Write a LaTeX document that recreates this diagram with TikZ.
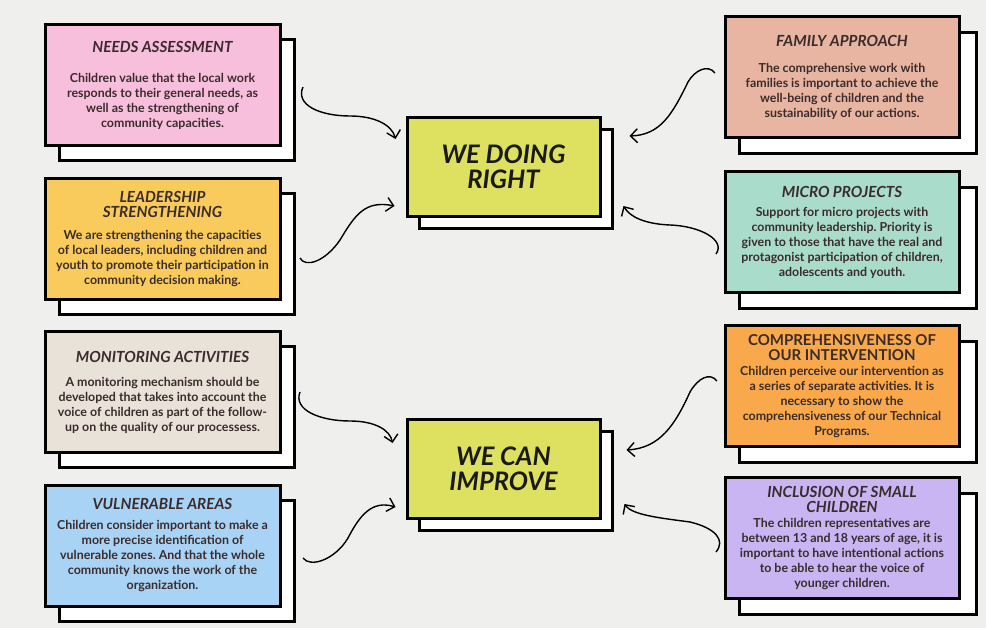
\documentclass[tikz,border=0pt]{standalone}
\usepackage{fontspec}
\setmainfont{Lato}
\usetikzlibrary{arrows.meta}
\newcommand\mybody{\fontsize{12.4}{15}\selectfont\bfseries}
\newcommand\mytitle{\fontsize{15.3}{15}\selectfont\bfseries\itshape}
\newcommand\mytitleup{\fontsize{15}{15}\selectfont\bfseries}
\newcommand\mycenter{\fontsize{25.5}{25}\selectfont\bfseries\itshape}
\definecolor{bgc}{HTML}{EFEFEE}
\definecolor{txc}{HTML}{3A2C2C}
\definecolor{cpink}{HTML}{F8BFDD}
\definecolor{cyell}{HTML}{F9CB5C}
\definecolor{cbeige}{HTML}{E9E2D8}
\definecolor{cblue}{HTML}{A9D3F5}
\definecolor{csalm}{HTML}{E8B5A2}
\definecolor{cmint}{HTML}{A9DCCA}
\definecolor{corng}{HTML}{F9A94B}
\definecolor{clav}{HTML}{C9B5F2}
\definecolor{ccent}{HTML}{DDE15F}
\tikzset{
  backbox/.style={draw=black, line width=3pt, fill=white, inner sep=0pt,
    minimum width=235pt, minimum height=121pt},
  card/.style={draw=black, line width=3pt, inner sep=1pt, align=center,
    minimum width=235pt, minimum height=121pt, text=txc, font=\mybody},
  cback/.style={backbox, minimum width=193pt, minimum height=99pt},
  ccard/.style={card, fill=ccent, minimum width=193pt, minimum height=99pt,
    text=black!90, font=\mycenter},
  arr/.style={line width=1.4pt, -{Straight Barb[length=7pt,width=14pt,line width=1.4pt]}}
}
\begin{document}
\frenchspacing
\begin{tikzpicture}[x=1pt,y=-1pt]
\useasboundingbox (0,0) rectangle (986,628);
\fill[bgc] (0,0) rectangle (986,628);

% left column
\node[backbox] (n1b) at (176.5,100.5) {};
\node[card, fill=cpink] (n1) at (162.5,85.5) {{\mytitle NEEDS ASSESSMENT}\\[15pt]
Children value that the local work\\responds to their general needs, as\\well as the strengthening of\\community capacities.};

\node[backbox] (n2b) at (176.5,254) {};
\node[card, fill=cyell] (n2) at (162.5,239) {{\mytitle LEADERSHIP}\\{\mytitle STRENGTHENING}\\[7pt]
We are strengthening the capacities\\of local leaders, including children and\\youth to promote their participation in\\community decision making.};

\node[backbox] (n3b) at (176.5,407) {};
\node[card, fill=cbeige] (n3) at (162.5,392) {{\mytitle MONITORING ACTIVITIES}\\[9pt]
A monitoring mechanism should be\\developed that takes into account the\\voice of children as part of the follow-\\up on the quality of our processess.};

\node[backbox] (n4b) at (176.5,560.5) {};
\node[card, fill=cblue] (n4) at (162.5,545.5) {{\mytitle VULNERABLE AREAS}\\[5pt]
Children consider important to make a\\more precise identification of\\vulnerable zones. And that the whole\\community knows the work of the\\organization.};

% right column
\node[backbox, minimum width=237pt] (n5b) at (857.5,93.5) {};
\node[card, minimum width=234pt, fill=csalm] (n5) at (842,77.5) {{\mytitle FAMILY APPROACH}\\[11pt]
The comprehensive work with\\families is important to achieve the\\well-being of children and the\\sustainability of our actions.};

\node[backbox, minimum width=237pt] (n6b) at (857.5,248.5) {};
\node[card, minimum width=234pt, fill=cmint] (n6) at (842,232.5) {{\mytitle MICRO PROJECTS}\\[4pt]
Support for micro projects with\\community leadership. Priority is\\given to those that have the real and\\protagonist participation of children,\\adolescents and youth.};

\node[backbox, minimum width=237pt] (n7b) at (857.5,402) {};
\node[card, minimum width=234pt, fill=corng] (n7) at (842,386) {{\mytitleup COMPREHENSIVENESS OF}\\{\mytitleup OUR INTERVENTION}\\[0pt]
Children perceive our intervention as\\a series of separate activities. It is\\necessary to show the\\comprehensiveness of our Technical\\Programs.};

\node[backbox, minimum width=237pt] (n8b) at (857.5,554) {};
\node[card, minimum width=234pt, fill=clav] (n8) at (842,538) {{\mytitle INCLUSION OF SMALL}\\{\mytitle CHILDREN}\\[0pt]
The children representatives are\\between 13 and 18 years of age, it is\\important to have intentional actions\\to be able to hear the voice of\\younger children.};

% centre
\node[cback] (wdb) at (515.5,179) {};
\node[ccard] (wd) at (503.5,167) {WE DOING\\RIGHT};
\node[cback] (wcb) at (515.5,481) {};
\node[ccard] (wc) at (503.5,469) {WE CAN\\IMPROVE};

% arrow start points
\coordinate (s1) at (303,87);
\coordinate (s2) at (300,258);
\coordinate (s3) at (300,392);
\coordinate (s4) at (303,558);
\coordinate (s5) at (715,73);
\coordinate (s6) at (716,254);
\coordinate (s7) at (717,381);
\coordinate (s8) at (716,552);

\draw[arr] (s1) .. controls (295,105) and (320,116) .. (350,116)
  .. controls (375,116) and (392,125) .. ([shift={(-10,23)}]wd.north west);
\draw[arr] (s2) .. controls (305,268) and (325,262) .. (340,240)
  .. controls (355,215) and (365,200) .. ([shift={(-11,-12)}]wd.south west);
\draw[arr] (s3) .. controls (293,410) and (320,421) .. (350,421)
  .. controls (375,421) and (390,430) .. ([shift={(-13,25)}]wc.north west);
\draw[arr] (s4) .. controls (310,568) and (335,560) .. (348,538)
  .. controls (360,515) and (372,500) .. ([shift={(-10,-13)}]wc.south west);

\draw[arr] (s5) .. controls (708,64) and (695,70) .. (688,82)
  .. controls (672,115) and (660,135) .. ([shift={(28,20)}]wd.north east);
\draw[arr] (s6) .. controls (726,240) and (700,226) .. (670,225)
  .. controls (645,224) and (630,217) .. ([shift={(22,-12)}]wd.south east);
\draw[arr] (s7) .. controls (710,372) and (698,378) .. (690,392)
  .. controls (675,425) and (660,448) .. ([shift={(25,32)}]wc.north east);
\draw[arr] (s8) .. controls (726,540) and (715,528) .. (690,522)
  .. controls (660,518) and (632,515) .. ([shift={(23,-16)}]wc.south east);
\end{tikzpicture}
\end{document}
